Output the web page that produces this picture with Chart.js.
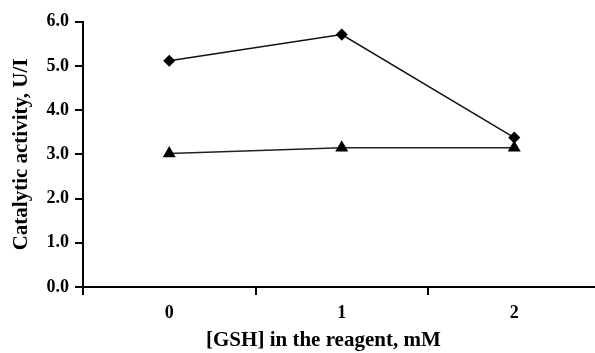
<!DOCTYPE html>
<html>
<head>
<meta charset="utf-8">
<script src="https://cdn.jsdelivr.net/npm/chart.js@4.4.1/dist/chart.umd.min.js"></script>
<style>
  html, body { margin: 0; padding: 0; background: #fff; overflow: hidden; width: 595px; height: 353px; }
  /* the x axis runs past the right edge of the picture, so the canvas is a bit wider */
  #c { position: absolute; left: 0; top: 5px; }
</style>
</head>
<body>
<canvas id="c" width="608" height="348"></canvas>
<script>
  // GSH concentration categories (mM)
  const gshLevels = ['0', '1', '2'];
  // catalytic activity, U/I
  const diamondSeries = [5.12, 5.71, 3.38];
  const triangleSeries = [3.02, 3.15, 3.15];
  const yTicks = [0, 1, 2, 3, 4, 5, 6];

  const serif = "'Liberation Serif', 'Times New Roman', serif";
  const ink = '#000';

  new Chart(document.getElementById('c'), {
    type: 'line',
    data: {
      labels: gshLevels,
      datasets: [
        {
          data: diamondSeries,
          borderColor: '#111',
          borderWidth: 1.5,
          pointStyle: 'rectRot',
          pointRadius: 5,
          pointBackgroundColor: ink,
          pointBorderColor: ink,
          tension: 0,
        },
        {
          data: triangleSeries,
          borderColor: '#222',
          borderWidth: 1.5,
          pointStyle: 'triangle',
          pointRadius: 6,
          pointBackgroundColor: ink,
          pointBorderColor: ink,
          tension: 0,
        },
      ],
    },
    options: {
      responsive: false,
      animation: false,
      layout: { padding: { top: 12, right: 0, left: 0, bottom: 0 } },
      plugins: { legend: { display: false }, tooltip: { enabled: false } },
      scales: {
        x: {
          type: 'category',
          offset: true,
          grid: { offset: true, drawOnChartArea: false, tickLength: 8, lineWidth: 2, color: ink },
          border: { display: true, width: 2, color: ink },
          ticks: { color: ink, font: { family: serif, size: 18, weight: 'bold' }, padding: 8 },
          title: {
            display: true,
            // trailing spaces nudge the centred title left, as in the original figure
            text: '[GSH] in the reagent, mM' + '\u00a0'.repeat(7),
            color: ink,
            font: { family: serif, size: 21, weight: 'bold' }, padding: { top: 5, bottom: 0 },
          },
          afterFit: (s) => { s.height = 66; },
        },
        y: {
          min: 0, max: 6,
          afterBuildTicks: (s) => { s.ticks = yTicks.map(v => ({ value: v })); },
          grid: { drawOnChartArea: false, tickLength: 8, lineWidth: 2, color: ink },
          border: { display: true, width: 2, color: ink },
          ticks: {
            color: ink, font: { family: serif, size: 18, weight: 'bold' }, padding: 6,
            callback: (v) => Number(v).toFixed(1),
          },
          title: {
            display: true, text: 'Catalytic activity, U/I', color: ink,
            font: { family: serif, size: 21, weight: 'bold' }, padding: { top: 9, bottom: 4 },
          },
          afterFit: (s) => { s.width = 83; },
        },
      },
    },
  });
</script>
</body>
</html>
